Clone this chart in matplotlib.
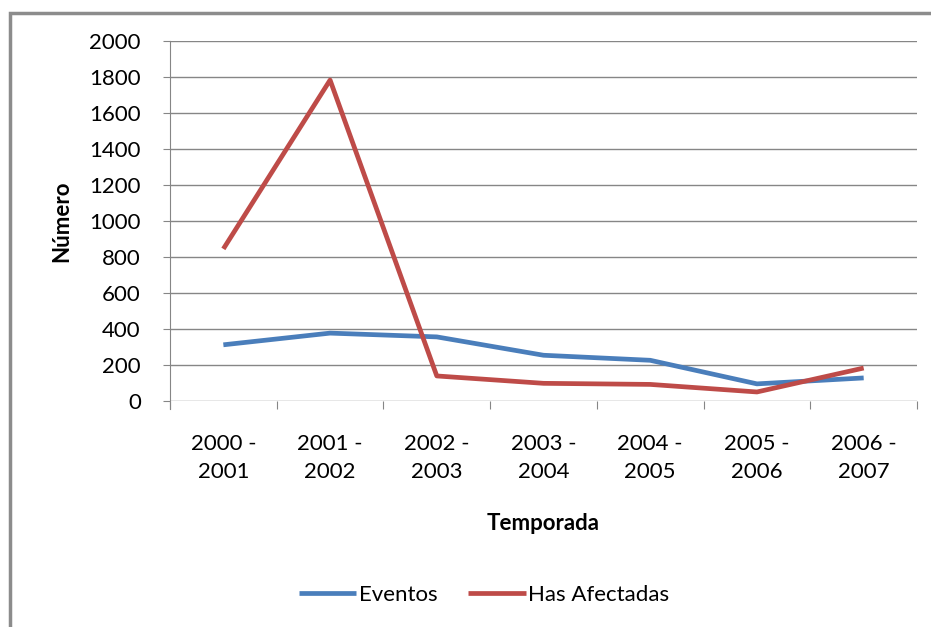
import numpy as np
import matplotlib.pyplot as plt
from matplotlib.patches import Rectangle

plt.rcParams['font.family'] = ['Lato', 'DejaVu Sans']

# data
temporadas = ["2000 -\n2001", "2001 -\n2002", "2002 -\n2003", "2003 -\n2004",
              "2004 -\n2005", "2005 -\n2006", "2006 -\n2007"]
eventos = [312, 377, 356, 254, 226, 95, 128]
has_afectadas = [845, 1783, 139, 98, 92, 50, 183]
yticks = np.arange(0, 2001, 200)

fig = plt.figure(figsize=(9.31, 6.27), dpi=100)
ax = fig.add_axes([0.1826, 0.3605, 0.985 - 0.1826, 0.9346 - 0.3605])

x = np.arange(len(temporadas))
ax.plot(x, eventos, color="#4A7EBB", lw=3.4, label="Eventos", solid_capstyle="butt")
ax.plot(x, has_afectadas, color="#BE4B48", lw=3.4, label="Has Afectadas", solid_capstyle="butt")

ax.set_xlim(-0.5, len(temporadas) - 0.5)
ax.set_ylim(0, 2000)
ax.set_yticks(yticks)
ax.set_yticklabels([str(v) for v in yticks])
ax.yaxis.grid(True, color="#868686", lw=1)
ax.set_axisbelow(True)

# category ticks at boundaries, labels at centres
ax.set_xticks(np.arange(-0.5, len(temporadas)), minor=False)
ax.set_xticklabels([])
ax.set_xticks(x, minor=True)
ax.set_xticklabels(temporadas, minor=True, fontsize=16, linespacing=1.5)
ax.tick_params(axis="x", which="major", length=6, color="#868686", direction="out")
ax.tick_params(axis="x", which="minor", length=0, pad=24)
ax.tick_params(axis="y", length=5, color="#868686", labelsize=16, pad=16)

for s in ["top", "right", "bottom"]:
    ax.spines[s].set_visible(False)
ax.spines["left"].set_color("#868686")
ax.spines["left"].set_bounds(-45, 2000)

ax.set_ylabel("Número", fontsize=16, fontweight="bold", labelpad=12)
ax.set_xlabel("Temporada", fontsize=16, fontweight="bold", labelpad=22)

fig.legend(loc="center", bbox_to_anchor=(0.52, 0.051), ncol=2, frameon=False,
           fontsize=16, handlelength=2.6, handletextpad=0.1, columnspacing=1.4)

# chart border (only left and top visible in the original crop)
fig.patches.append(Rectangle((10 / 931, -0.1), 1.2, 1 - 13 / 627 + 0.1,
                             transform=fig.transFigure, fill=False,
                             edgecolor="#8C8C8C", lw=2.5))

fig.savefig("out.png", dpi=100)
